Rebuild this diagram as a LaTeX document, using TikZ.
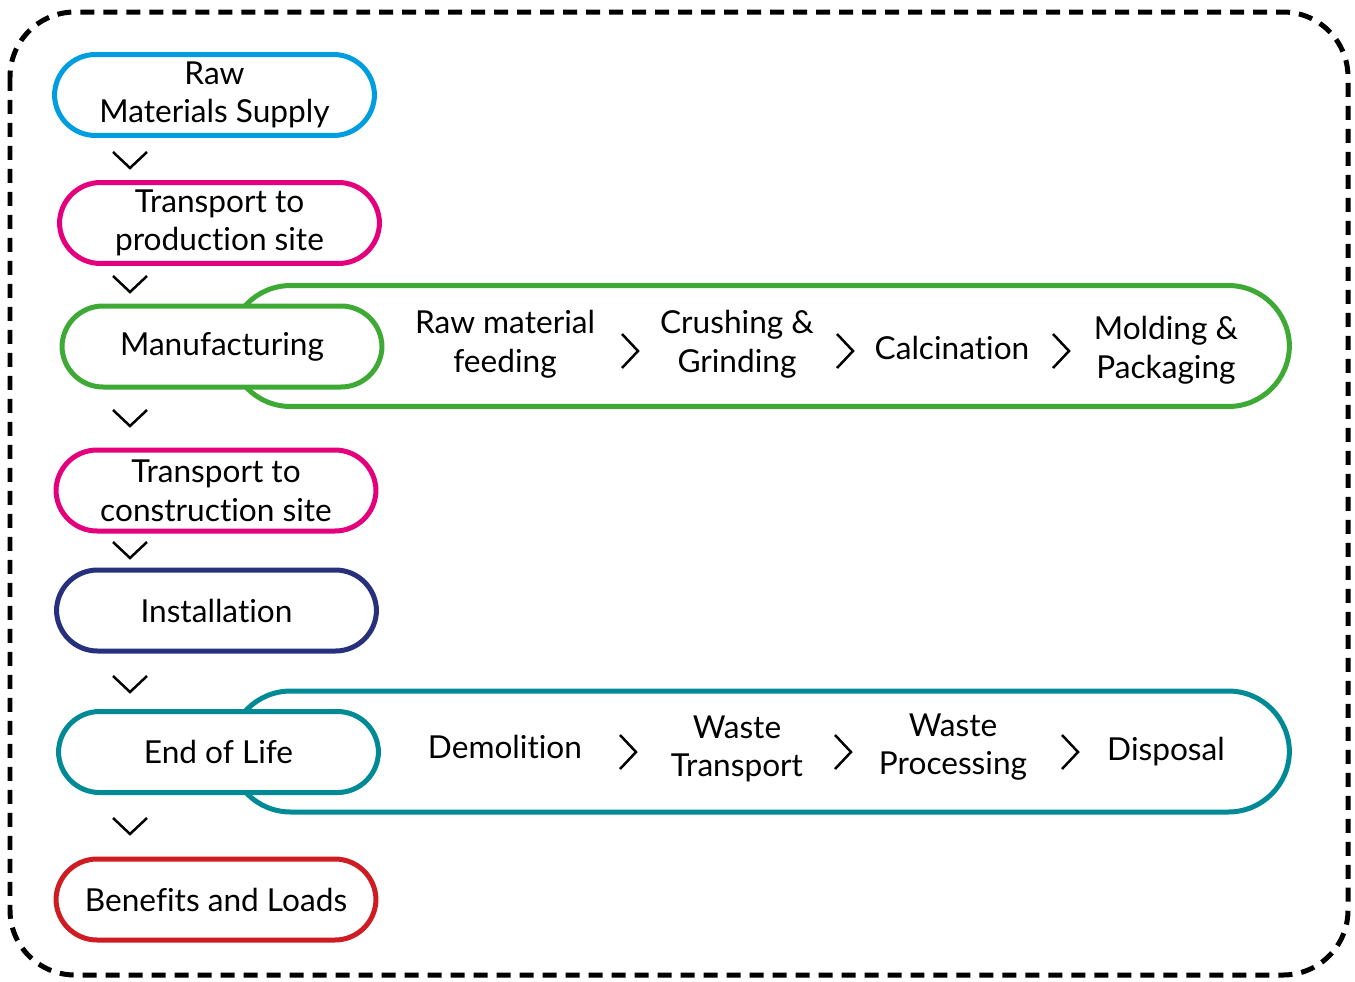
\documentclass[tikz,border=0pt]{standalone}
\usepackage{fontspec}
\setmainfont[Ligatures=NoCommon, RawFeature={-liga,-dlig}]{Lato}
\usepackage{tikz}
\usetikzlibrary{arrows.meta, positioning}
\usepackage{xcolor}

\definecolor{rawcyan}{RGB}{0,158,224}
\definecolor{tpink}{RGB}{228,0,124}
\definecolor{mfggreen}{RGB}{62,170,53}
\definecolor{instnavy}{RGB}{38,48,125}
\definecolor{eolteal}{RGB}{0,138,150}
\definecolor{loadred}{RGB}{207,28,35}

\tikzset{
  stagebox/.style={draw=#1, fill=white, text=black, line width=0.1cm, rounded corners=0.82cm,
    minimum width=6.4cm, minimum height=1.62cm, align=center, inner sep=0pt,
    font=\fontsize{18}{22}\selectfont},
  bandbox/.style={draw=#1, fill=white, line width=0.1cm, rounded corners=1.22cm,
    minimum width=21.2cm, minimum height=2.42cm, inner sep=0pt},
  steptext/.style={align=center, font=\fontsize{18}{22}\selectfont},
  chev/.style={line width=0.05cm}
}

\begin{document}
\begin{tikzpicture}[x=0.02cm, y=-0.02cm]
            \useasboundingbox (0,0) rectangle (1355,981);

            \draw[line width=0.1cm, dash pattern=on 0.28cm off 0.18cm, rounded corners=1.3cm]
                (10,12) rectangle (1348,975);

            % long bands behind the stage boxes
            \node[bandbox=mfggreen] (mfgband) at (759.5,346) {};
            \node[bandbox=eolteal] (eolband) at (759.5,751.5) {};

            % stage boxes
            \node[stagebox=rawcyan] (rawmat) at (214.5,95) {Raw\\Materials Supply};
            \node[stagebox=tpink] (tprod) at (219.5,223) {Transport to\\production site};
            \node[stagebox=mfggreen] (manuf) at (222,346.5) {Manufacturing};
            \node[stagebox=tpink] (tcons) at (216,490.5) {Transport to\\construct\kern0pt ion site};
            \node[stagebox=instnavy] (install) at (216.5,610.5) {Installat\kern0pt ion};
            \node[stagebox=eolteal] (eol) at (218.5,752) {End of Life};
            \node[stagebox=loadred] (benefit) at (216,899.5) {Benefits and Loads};

            % manufacturing steps
            \node[steptext] (feed) at (505,344) {Raw material\\feeding};
            \node[steptext] (crush) at (737,344) {Crushing \&\\Grinding};
            \node[steptext] (calc) at (952,348) {Calcinat\kern0pt ion};
            \node[steptext] (mold) at (1166,350) {Molding \&\\Packaging};

            % end of life steps
            \node[steptext] (demol) at (505,747) {Demolit\kern0pt ion};
            \node[steptext] (wtrans) at (737,749) {Waste\\Transport};
            \node[steptext] (wproc) at (953,747) {Waste\\Processing};
            \node[steptext] (disp) at (1166,752) {Disposal};

            % down chevrons
            \draw[chev] (113,152) -- (130,168) -- (147,152);
            \draw[chev] (113,276) -- (130,292) -- (147,276);
            \draw[chev] (113,410) -- (130,426) -- (147,410);
            \draw[chev] (113,542) -- (130,558) -- (147,542);
            \draw[chev] (113,676) -- (130,692) -- (147,676);
            \draw[chev] (113,818) -- (130,834) -- (147,818);

            % side chevrons
            \draw[chev] (622,334) -- (638,351) -- (622,368);
            \draw[chev] (837,334) -- (853,351) -- (837,368);
            \draw[chev] (1053,334) -- (1069,351) -- (1053,368);
            \draw[chev] (620,735) -- (636,752) -- (620,769);
            \draw[chev] (835,735) -- (851,752) -- (835,769);
            \draw[chev] (1062,735) -- (1078,752) -- (1062,769);
        \end{tikzpicture}
\end{document}
